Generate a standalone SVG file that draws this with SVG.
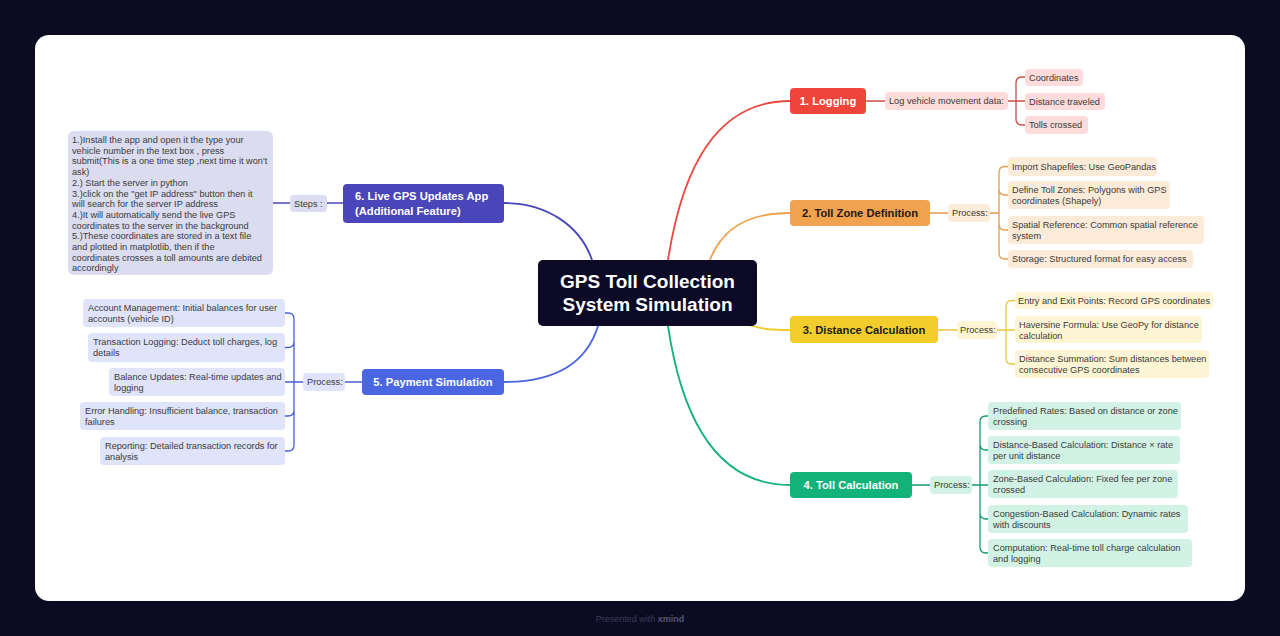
<svg xmlns="http://www.w3.org/2000/svg" width="1280" height="636" viewBox="0 0 1280 636">
<style>
.t{font-family:"Liberation Sans",Arial,sans-serif;font-size:9.2px;fill:#3a3a3a}
.h{font-family:"Liberation Sans",Arial,sans-serif;font-size:11.2px;font-weight:bold;fill:#ffffff}
.c{fill:none;stroke-width:1.8;stroke-linecap:round}
.s{fill:none;stroke-width:1.3}
</style>
<rect x="0" y="0" width="1280" height="636" fill="#0b0b22"/>
<rect x="35" y="35" width="1210" height="566" rx="14" fill="#ffffff"/>
<text x="640" y="622" text-anchor="middle" font-family="Liberation Sans,Arial,sans-serif" font-size="9" fill="#3b3b58">Presented with <tspan font-weight="bold" fill="#55557a">xmind</tspan></text>

<g id="connectors">
<path class="c" stroke="#e8483e" d="M668,260 C682,170 715,101 790,101"/>
<path class="c" stroke="#f0a04b" d="M710,260 C722,228 748,213 790,213"/>
<path class="c" stroke="#f0cd2a" d="M745,324 C765,330 772,330 790,330"/>
<path class="c" stroke="#14b37d" d="M668,326 C682,420 718,485 790,485"/>
<path class="c" stroke="#4a64e0" d="M598,326 C586,365 552,382 504,382"/>
<path class="c" stroke="#4a46b9" d="M592,260 C580,225 546,203 504,203"/>

<path class="s" stroke="#c8504a" d="M866,101 H885 M1008,101 H1025 M1025,77 H1022 Q1016,77 1016,83 V119 Q1016,125 1022,125 H1025"/>
<path class="s" stroke="#e59a4e" d="M930,213 H948 M990,213 H999 M1008,166.5 H1005 Q999,166.5 999,172.5 V253 Q999,259 1005,259 H1008 M999,189 Q999,195 1005,195 H1008 M999,224 Q999,230 1005,230 H1008"/>
<path class="s" stroke="#e8c53a" d="M938,330 H957 M997,330 H1015 M1015,300.5 H1012 Q1006,300.5 1006,306.5 V358 Q1006,364 1012,364 H1015"/>
<path class="s" stroke="#179a6b" d="M912,485 H930 M972,485 H988 M988,416 H986 Q980,416 980,422 V547 Q980,553 986,553 H988 M980,444 Q980,450 986,450 H988 M980,513 Q980,519 986,519 H988"/>
<path class="s" stroke="#4a5fd0" d="M345,382 H362 M303,382 H285 M285,313 H288 Q294,313 294,319 V445 Q294,451 288,451 H285 M294,341.5 Q294,347.5 288,347.5 H285 M294,410 Q294,416 288,416 H285"/>
<path class="s" stroke="#4a46b9" d="M273,203 H290 M327,203 H343"/>
</g>

<g id="center">
<rect x="538" y="260" width="219" height="66" rx="5" fill="#0c0a26"/>
<text x="647.5" y="288" text-anchor="middle" font-family="Liberation Sans,Arial,sans-serif" font-size="19" font-weight="bold" fill="#ffffff">GPS Toll Collection</text>
<text x="647.5" y="311" text-anchor="middle" font-family="Liberation Sans,Arial,sans-serif" font-size="19" font-weight="bold" fill="#ffffff">System Simulation</text>
</g>

<g id="logging">
<rect x="790" y="88" width="76" height="26" rx="4" fill="#f0453b"/>
<text class="h" x="828" y="105" text-anchor="middle">1. Logging</text>
<rect x="885" y="92" width="123" height="18" rx="4" fill="#fddcdb"/>
<text class="t" x="889" y="104.3">Log vehicle movement data:</text>
<rect x="1025" y="69" width="58" height="17" rx="4" fill="#fddcdb"/>
<text class="t" x="1029" y="80.8">Coordinates</text>
<rect x="1025" y="93" width="80" height="17" rx="4" fill="#fddcdb"/>
<text class="t" x="1029" y="104.8">Distance traveled</text>
<rect x="1025" y="116" width="63" height="18" rx="4" fill="#fddcdb"/>
<text class="t" x="1029" y="128">Tolls crossed</text>
</g>

<g id="tollzone">
<rect x="790" y="200" width="140" height="26" rx="4" fill="#f1a24e"/>
<text class="h" x="860" y="217" text-anchor="middle" style="fill:#1a1a1a">2. Toll Zone Definition</text>
<rect x="948" y="204" width="42" height="18" rx="4" fill="#fdebd9"/>
<text class="t" x="952" y="216.3">Process:</text>
<rect x="1008" y="157" width="149" height="19" rx="4" fill="#fdebd9"/>
<text class="t" x="1012" y="169.8">Import Shapefiles: Use GeoPandas</text>
<rect x="1008" y="181" width="162" height="28" rx="4" fill="#fdebd9"/>
<text class="t" x="1012" y="192.5">Define Toll Zones: Polygons with GPS</text>
<text class="t" x="1012" y="203.5">coordinates (Shapely)</text>
<rect x="1008" y="216" width="196" height="28" rx="4" fill="#fdebd9"/>
<text class="t" x="1012" y="227.5">Spatial Reference: Common spatial reference</text>
<text class="t" x="1012" y="238.5">system</text>
<rect x="1008" y="250" width="185" height="18" rx="4" fill="#fdebd9"/>
<text class="t" x="1012" y="262.3">Storage: Structured format for easy access</text>
</g>

<g id="distance">
<rect x="790" y="316" width="148" height="27" rx="4" fill="#f2cd2b"/>
<text class="h" x="864" y="333.5" text-anchor="middle" style="fill:#1a1a1a">3. Distance Calculation</text>
<rect x="957" y="321" width="40" height="18" rx="4" fill="#fdf5d3"/>
<text class="t" x="960" y="333.3">Process:</text>
<rect x="1015" y="292" width="198" height="17" rx="4" fill="#fdf5d3"/>
<text class="t" x="1018" y="303.8" textLength="192">Entry and Exit Points: Record GPS coordinates</text>
<rect x="1015" y="316" width="187" height="27" rx="4" fill="#fdf5d3"/>
<text class="t" x="1019" y="327.5">Haversine Formula: Use GeoPy for distance</text>
<text class="t" x="1019" y="338.5">calculation</text>
<rect x="1015" y="350" width="194" height="28" rx="4" fill="#fdf5d3"/>
<text class="t" x="1019" y="361.5">Distance Summation: Sum distances between</text>
<text class="t" x="1019" y="372.5">consecutive GPS coordinates</text>
</g>

<g id="tollcalc">
<rect x="790" y="472" width="122" height="26" rx="4" fill="#12b27b"/>
<text class="h" x="851" y="489" text-anchor="middle">4. Toll Calculation</text>
<rect x="930" y="476" width="42" height="18" rx="4" fill="#d2f2e5"/>
<text class="t" x="934" y="488.3">Process:</text>
<rect x="988" y="402" width="193" height="28" rx="4" fill="#d2f2e5"/>
<text class="t" x="993" y="413.5">Predefined Rates: Based on distance or zone</text>
<text class="t" x="993" y="424.5">crossing</text>
<rect x="988" y="436" width="192" height="28" rx="4" fill="#d2f2e5"/>
<text class="t" x="993" y="447.5">Distance-Based Calculation: Distance × rate</text>
<text class="t" x="993" y="458.5">per unit distance</text>
<rect x="988" y="470" width="190" height="28" rx="4" fill="#d2f2e5"/>
<text class="t" x="993" y="481.5">Zone-Based Calculation: Fixed fee per zone</text>
<text class="t" x="993" y="492.5">crossed</text>
<rect x="988" y="505" width="200" height="28" rx="4" fill="#d2f2e5"/>
<text class="t" x="993" y="516.5">Congestion-Based Calculation: Dynamic rates</text>
<text class="t" x="993" y="527.5">with discounts</text>
<rect x="988" y="539" width="204" height="28" rx="4" fill="#d2f2e5"/>
<text class="t" x="993" y="550.5">Computation: Real-time toll charge calculation</text>
<text class="t" x="993" y="561.5">and logging</text>
</g>

<g id="payment">
<rect x="362" y="369" width="142" height="26" rx="4" fill="#4a66e2"/>
<text class="h" x="433" y="386" text-anchor="middle">5. Payment Simulation</text>
<rect x="303" y="373" width="42" height="18" rx="4" fill="#dfe4fb"/>
<text class="t" x="307" y="385.3">Process:</text>
<rect x="83" y="299" width="202" height="28" rx="4" fill="#dfe4fb"/>
<text class="t" x="88" y="310.5">Account Management: Initial balances for user</text>
<text class="t" x="88" y="321.5">accounts (vehicle ID)</text>
<rect x="88" y="333" width="197" height="29" rx="4" fill="#dfe4fb"/>
<text class="t" x="93" y="345">Transaction Logging: Deduct toll charges, log</text>
<text class="t" x="93" y="356">details</text>
<rect x="109" y="368" width="176" height="28" rx="4" fill="#dfe4fb"/>
<text class="t" x="114" y="379.5">Balance Updates: Real-time updates and</text>
<text class="t" x="114" y="390.5">logging</text>
<rect x="80" y="402" width="205" height="28" rx="4" fill="#dfe4fb"/>
<text class="t" x="85" y="413.5">Error Handling: Insufficient balance, transaction</text>
<text class="t" x="85" y="424.5">failures</text>
<rect x="100" y="437" width="185" height="28" rx="4" fill="#dfe4fb"/>
<text class="t" x="105" y="448.5">Reporting: Detailed transaction records for</text>
<text class="t" x="105" y="459.5">analysis</text>
</g>

<g id="livegps">
<rect x="343" y="184" width="161" height="39" rx="4" fill="#4a46b9"/>
<text class="h" x="355" y="200">6. Live GPS Updates App</text>
<text class="h" x="355" y="214.5">(Additional Feature)</text>
<rect x="290" y="195" width="37" height="17" rx="4" fill="#dcdcf2"/>
<text class="t" x="294" y="206.8">Steps :</text>
<rect x="68" y="131" width="205" height="144" rx="6" fill="#dcdcf0"/>
<text class="t" x="72" y="143">1.)Install the app and open it the type your</text>
<text class="t" x="72" y="153.7">vehicle number in the text box , press</text>
<text class="t" x="72" y="164.4">submit(This is a one time step ,next time it won't</text>
<text class="t" x="72" y="175.1">ask)</text>
<text class="t" x="72" y="185.8">2.) Start the server in python</text>
<text class="t" x="72" y="196.5">3.)click on the "get IP address" button then it</text>
<text class="t" x="72" y="207.2">will search for the server IP address</text>
<text class="t" x="72" y="217.9">4.)It will automatically send the live GPS</text>
<text class="t" x="72" y="228.6">coordinates to the server in the background</text>
<text class="t" x="72" y="239.3">5.)These coordinates are stored in a text file</text>
<text class="t" x="72" y="250">and plotted in matplotlib, then if the</text>
<text class="t" x="72" y="260.7">coordinates crosses a toll amounts are debited</text>
<text class="t" x="72" y="271.4">accordingly</text>
</g>
</svg>
